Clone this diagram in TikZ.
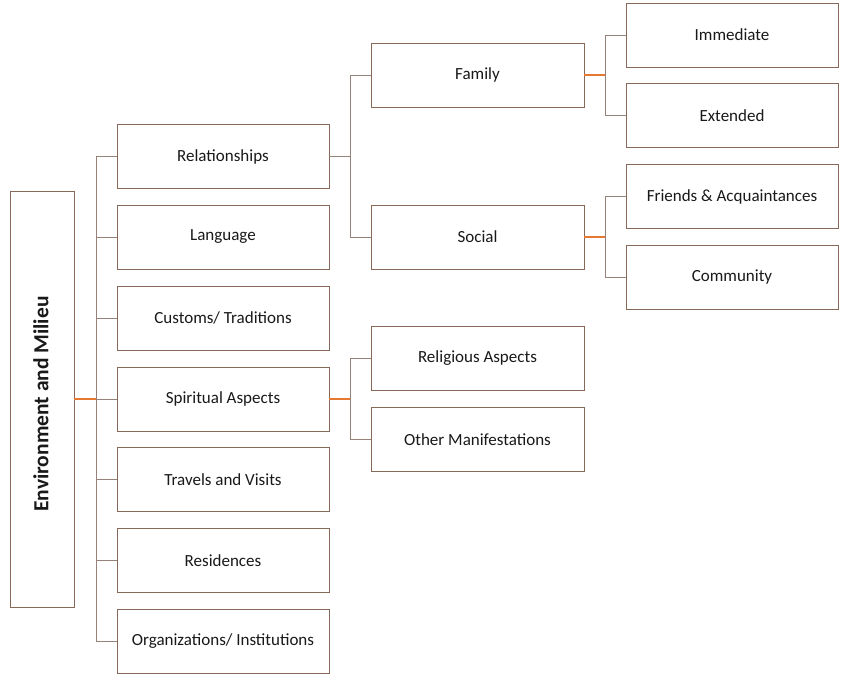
\documentclass[tikz,border=0pt]{standalone}
\usepackage{fontspec}
\setmainfont{Carlito}
\definecolor{boxline}{RGB}{135,105,90}
\definecolor{conline}{RGB}{150,130,120}
\definecolor{stub}{RGB}{230,120,50}
\definecolor{txt}{RGB}{25,25,25}
\begin{document}
\begin{tikzpicture}[x=1pt,y=-1pt,
  box/.style={draw=boxline,line width=0.8pt,fill=white,minimum width=212pt,minimum height=64pt,inner sep=0pt,text=txt,font=\fontsize{17}{20}\selectfont},
  con/.style={draw=conline,line width=0.8pt},
  stubline/.style={draw=stub,line width=1.4pt}]
\useasboundingbox[fill=white] (0,0) rectangle (844,681);
% root
\node[draw=boxline,line width=0.8pt,minimum width=64pt,minimum height=416pt,inner sep=0pt] (root) at (42,399) {};
\node[rotate=90,font=\bfseries\fontsize{21.5}{24}\selectfont,text=txt] (roottext) at (41,404) {Environment and Milieu};
% level 1
\node[box] (rel) at (223,156.5) {Relationships};
\node[box] (lang) at (223,237) {Language};
\node[box] (cust) at (223,318) {Customs/ Traditions};
\node[box] (spir) at (223,399) {Spiritual Aspects};
\node[box] (trav) at (223,479.5) {Travels and Visits};
\node[box] (res) at (223,560.5) {Residences};
\node[box] (org) at (223,641.5) {Organizations/ Institutions};
% level 2
\node[box,minimum width=213pt] (fam) at (477.5,75) {Family};
\node[box,minimum width=213pt] (soc) at (477.5,237) {Social};
\node[box,minimum width=213pt] (relg) at (477.5,358.5) {Religious Aspects};
\node[box,minimum width=213pt] (oth) at (477.5,439.5) {Other Manifestations};
% level 3
\node[box] (imm) at (732,35) {Immediate};
\node[box] (ext) at (732,115.5) {Extended};
\node[box] (fri) at (732,196.5) {Friends \& Acquaintances};
\node[box] (com) at (732,277.5) {Community};
% junctions
\coordinate (s0) at (96,399);
\coordinate (s1) at (350,156.5);
\coordinate (s2) at (350,399);
\coordinate (s3) at (605,75);
\coordinate (s4) at (605,237);
% connectors
\foreach \n in {rel,lang,cust,spir,trav,res,org} \draw[con] (s0) |- (\n.west);
\draw[stubline] (root.east |- s0) -- (s0);
\foreach \n in {fam,soc} \draw[con] (s1) |- (\n.west);
\draw[con] (rel.east) -- (s1);
\foreach \n in {relg,oth} \draw[con] (s2) |- (\n.west);
\draw[stubline] (spir.east) -- (s2);
\foreach \n in {imm,ext} \draw[con] (s3) |- (\n.west);
\draw[stubline] (fam.east) -- (s3);
\foreach \n in {fri,com} \draw[con] (s4) |- (\n.west);
\draw[stubline] (soc.east) -- (s4);
\end{tikzpicture}
\end{document}
